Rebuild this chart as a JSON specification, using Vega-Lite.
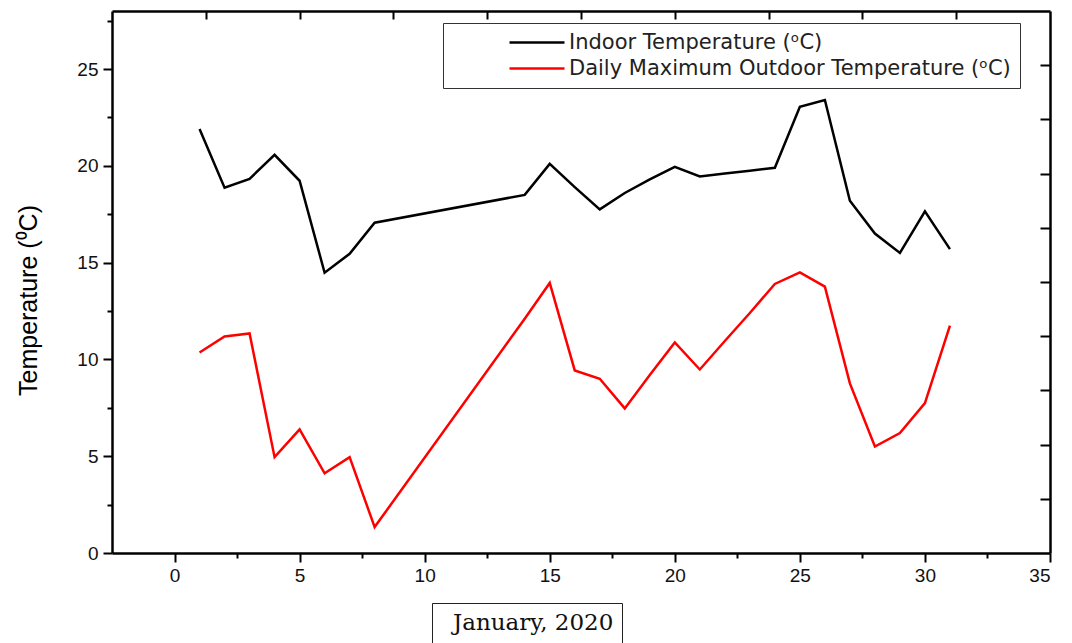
{
  "$schema": "https://vega.github.io/schema/vega-lite/v6.json",
  "autosize": "none",
  "width": 938,
  "height": 542,
  "padding": {"left": 112, "top": 11, "right": 22, "bottom": 90},
  "background": "white",
  "config": {"view": {"stroke": null}},
  "data": {"values": [
    {"day": 1, "series": "Indoor Temperature (ᵒC)", "temp": 21.9},
    {"day": 2, "series": "Indoor Temperature (ᵒC)", "temp": 18.87},
    {"day": 3, "series": "Indoor Temperature (ᵒC)", "temp": 19.33},
    {"day": 4, "series": "Indoor Temperature (ᵒC)", "temp": 20.57},
    {"day": 5, "series": "Indoor Temperature (ᵒC)", "temp": 19.23},
    {"day": 6, "series": "Indoor Temperature (ᵒC)", "temp": 14.48},
    {"day": 7, "series": "Indoor Temperature (ᵒC)", "temp": 15.46},
    {"day": 8, "series": "Indoor Temperature (ᵒC)", "temp": 17.06},
    {"day": 14, "series": "Indoor Temperature (ᵒC)", "temp": 18.5},
    {"day": 15, "series": "Indoor Temperature (ᵒC)", "temp": 20.1},
    {"day": 16, "series": "Indoor Temperature (ᵒC)", "temp": 18.9},
    {"day": 17, "series": "Indoor Temperature (ᵒC)", "temp": 17.75},
    {"day": 18, "series": "Indoor Temperature (ᵒC)", "temp": 18.6},
    {"day": 19, "series": "Indoor Temperature (ᵒC)", "temp": 19.3},
    {"day": 20, "series": "Indoor Temperature (ᵒC)", "temp": 19.95},
    {"day": 21, "series": "Indoor Temperature (ᵒC)", "temp": 19.45},
    {"day": 22, "series": "Indoor Temperature (ᵒC)", "temp": 19.6},
    {"day": 23, "series": "Indoor Temperature (ᵒC)", "temp": 19.75},
    {"day": 24, "series": "Indoor Temperature (ᵒC)", "temp": 19.9},
    {"day": 25, "series": "Indoor Temperature (ᵒC)", "temp": 23.05},
    {"day": 26, "series": "Indoor Temperature (ᵒC)", "temp": 23.4},
    {"day": 27, "series": "Indoor Temperature (ᵒC)", "temp": 18.2},
    {"day": 28, "series": "Indoor Temperature (ᵒC)", "temp": 16.5},
    {"day": 29, "series": "Indoor Temperature (ᵒC)", "temp": 15.5},
    {"day": 30, "series": "Indoor Temperature (ᵒC)", "temp": 17.65},
    {"day": 31, "series": "Indoor Temperature (ᵒC)", "temp": 15.7},
    {"day": 1, "series": "Daily Maximum Outdoor Temperature (ᵒC)", "temp": 10.36},
    {"day": 2, "series": "Daily Maximum Outdoor Temperature (ᵒC)", "temp": 11.19},
    {"day": 3, "series": "Daily Maximum Outdoor Temperature (ᵒC)", "temp": 11.34},
    {"day": 4, "series": "Daily Maximum Outdoor Temperature (ᵒC)", "temp": 4.95},
    {"day": 5, "series": "Daily Maximum Outdoor Temperature (ᵒC)", "temp": 6.39},
    {"day": 6, "series": "Daily Maximum Outdoor Temperature (ᵒC)", "temp": 4.12},
    {"day": 7, "series": "Daily Maximum Outdoor Temperature (ᵒC)", "temp": 4.95},
    {"day": 8, "series": "Daily Maximum Outdoor Temperature (ᵒC)", "temp": 1.34},
    {"day": 14, "series": "Daily Maximum Outdoor Temperature (ᵒC)", "temp": 12.1},
    {"day": 15, "series": "Daily Maximum Outdoor Temperature (ᵒC)", "temp": 13.95},
    {"day": 16, "series": "Daily Maximum Outdoor Temperature (ᵒC)", "temp": 9.43},
    {"day": 17, "series": "Daily Maximum Outdoor Temperature (ᵒC)", "temp": 9.0},
    {"day": 18, "series": "Daily Maximum Outdoor Temperature (ᵒC)", "temp": 7.47},
    {"day": 19, "series": "Daily Maximum Outdoor Temperature (ᵒC)", "temp": 9.2},
    {"day": 20, "series": "Daily Maximum Outdoor Temperature (ᵒC)", "temp": 10.88},
    {"day": 21, "series": "Daily Maximum Outdoor Temperature (ᵒC)", "temp": 9.48},
    {"day": 22, "series": "Daily Maximum Outdoor Temperature (ᵒC)", "temp": 10.95},
    {"day": 23, "series": "Daily Maximum Outdoor Temperature (ᵒC)", "temp": 12.4},
    {"day": 24, "series": "Daily Maximum Outdoor Temperature (ᵒC)", "temp": 13.9},
    {"day": 25, "series": "Daily Maximum Outdoor Temperature (ᵒC)", "temp": 14.5},
    {"day": 26, "series": "Daily Maximum Outdoor Temperature (ᵒC)", "temp": 13.76},
    {"day": 27, "series": "Daily Maximum Outdoor Temperature (ᵒC)", "temp": 8.76},
    {"day": 28, "series": "Daily Maximum Outdoor Temperature (ᵒC)", "temp": 5.5},
    {"day": 29, "series": "Daily Maximum Outdoor Temperature (ᵒC)", "temp": 6.2},
    {"day": 30, "series": "Daily Maximum Outdoor Temperature (ᵒC)", "temp": 7.74},
    {"day": 31, "series": "Daily Maximum Outdoor Temperature (ᵒC)", "temp": 11.75}
  ]},
  "resolve": {
    "scale": {"x": "independent", "y": "independent"},
    "axis": {"x": "independent", "y": "independent"}
  },
  "layer": [
    {
      "mark": {"type": "line", "strokeWidth": 2.5, "clip": true},
      "encoding": {
        "x": {
          "field": "day", "type": "quantitative",
          "scale": {"domain": [-2.5, 35], "nice": false, "zero": false},
          "axis": {
            "orient": "bottom", "title": null,
            "values": [0, 2.5, 5, 7.5, 10, 12.5, 15, 17.5, 20, 22.5, 25, 27.5, 30, 32.5, 35],
            "labelExpr": "datum.value % 5 === 0 ? datum.label : ''",
            "tickSize": {"condition": {"test": "datum.value % 5 === 0", "value": 9}, "value": 5},
            "tickWidth": 2, "tickColor": "black",
            "domainWidth": 2.5, "domainColor": "black",
            "labelFont": "Liberation Sans", "labelFontSize": 19, "labelColor": "#111",
            "labelPadding": 4, "grid": false
          }
        },
        "y": {
          "field": "temp", "type": "quantitative",
          "scale": {"domain": [0, 28], "nice": false, "zero": false},
          "axis": {
            "orient": "left",
            "title": "Temperature (⁰C)",
            "titleFont": "Liberation Sans", "titleFontSize": 25, "titleFontWeight": "normal",
            "titleColor": "black", "titlePadding": 35, "titleY": 289,
            "values": [0, 2.5, 5, 7.5, 10, 12.5, 15, 17.5, 20, 22.5, 25, 27.5],
            "labelExpr": "datum.value % 5 === 0 ? datum.label : ''",
            "tickSize": {"condition": {"test": "datum.value % 5 === 0", "value": 9}, "value": 5},
            "tickWidth": 2, "tickColor": "black",
            "domainWidth": 2.5, "domainColor": "black",
            "labelFont": "Liberation Sans", "labelFontSize": 19, "labelColor": "#111",
            "labelPadding": 5, "grid": false
          }
        },
        "color": {
          "field": "series", "type": "nominal",
          "scale": {
            "domain": ["Indoor Temperature (ᵒC)", "Daily Maximum Outdoor Temperature (ᵒC)"],
            "range": ["#000000", "#ff0000"]
          },
          "legend": {
            "title": null, "orient": "none", "legendX": 331, "legendY": 12,
            "strokeColor": "#333", "fillColor": "white", "padding": 9,
            "symbolType": "stroke", "symbolSize": 3025, "symbolStrokeWidth": 2.5,
            "symbolOffset": 56, "clipHeight": 21,
            "labelFont": "DejaVu Sans", "labelFontSize": 21, "labelColor": "#222",
            "labelOffset": 3, "rowPadding": 4, "labelLimit": 700
          }
        }
      }
    },
    {
      "mark": {"type": "line", "opacity": 0},
      "encoding": {
        "x": {
          "field": "day", "type": "quantitative",
          "scale": {"domain": [-2.5, 35], "nice": false, "zero": false},
          "axis": {
            "orient": "top", "title": null, "labels": false,
            "values": [1.25, 5, 8.75, 12.5, 16.25, 20, 23.75, 27.5, 31.25],
            "tickSize": -8, "tickWidth": 2, "tickColor": "black",
            "domainWidth": 2.5, "domainColor": "black", "grid": false
          }
        },
        "y": {
          "field": "temp", "type": "quantitative",
          "scale": {"domain": [0, 28], "nice": false, "zero": false},
          "axis": {
            "orient": "right", "title": null, "labels": false,
            "values": [2.8, 5.6, 8.4, 11.2, 14, 16.8, 19.6, 22.4, 25.2],
            "tickSize": -10, "tickWidth": 2, "tickColor": "black",
            "domainWidth": 2.5, "domainColor": "black", "grid": false
          }
        },
        "detail": {"field": "series"},
        "strokeDash": {
          "datum": "January, 2020", "type": "nominal",
          "legend": {
            "title": null, "orient": "none", "legendX": 320, "legendY": 592,
            "strokeColor": "#222", "fillColor": "white", "padding": 8,
            "symbolType": "square", "symbolSize": 400,
            "symbolOpacity": 1, "symbolFillColor": "white", "symbolStrokeColor": "white", "symbolStrokeWidth": 1,
            "symbolOffset": 208, "clipHeight": 23,
            "labelOffset": -218, "labelLimit": 500,
            "labelFont": "DejaVu Serif", "labelFontSize": 23, "labelColor": "#111"
          }
        }
      }
    }
  ]
}
